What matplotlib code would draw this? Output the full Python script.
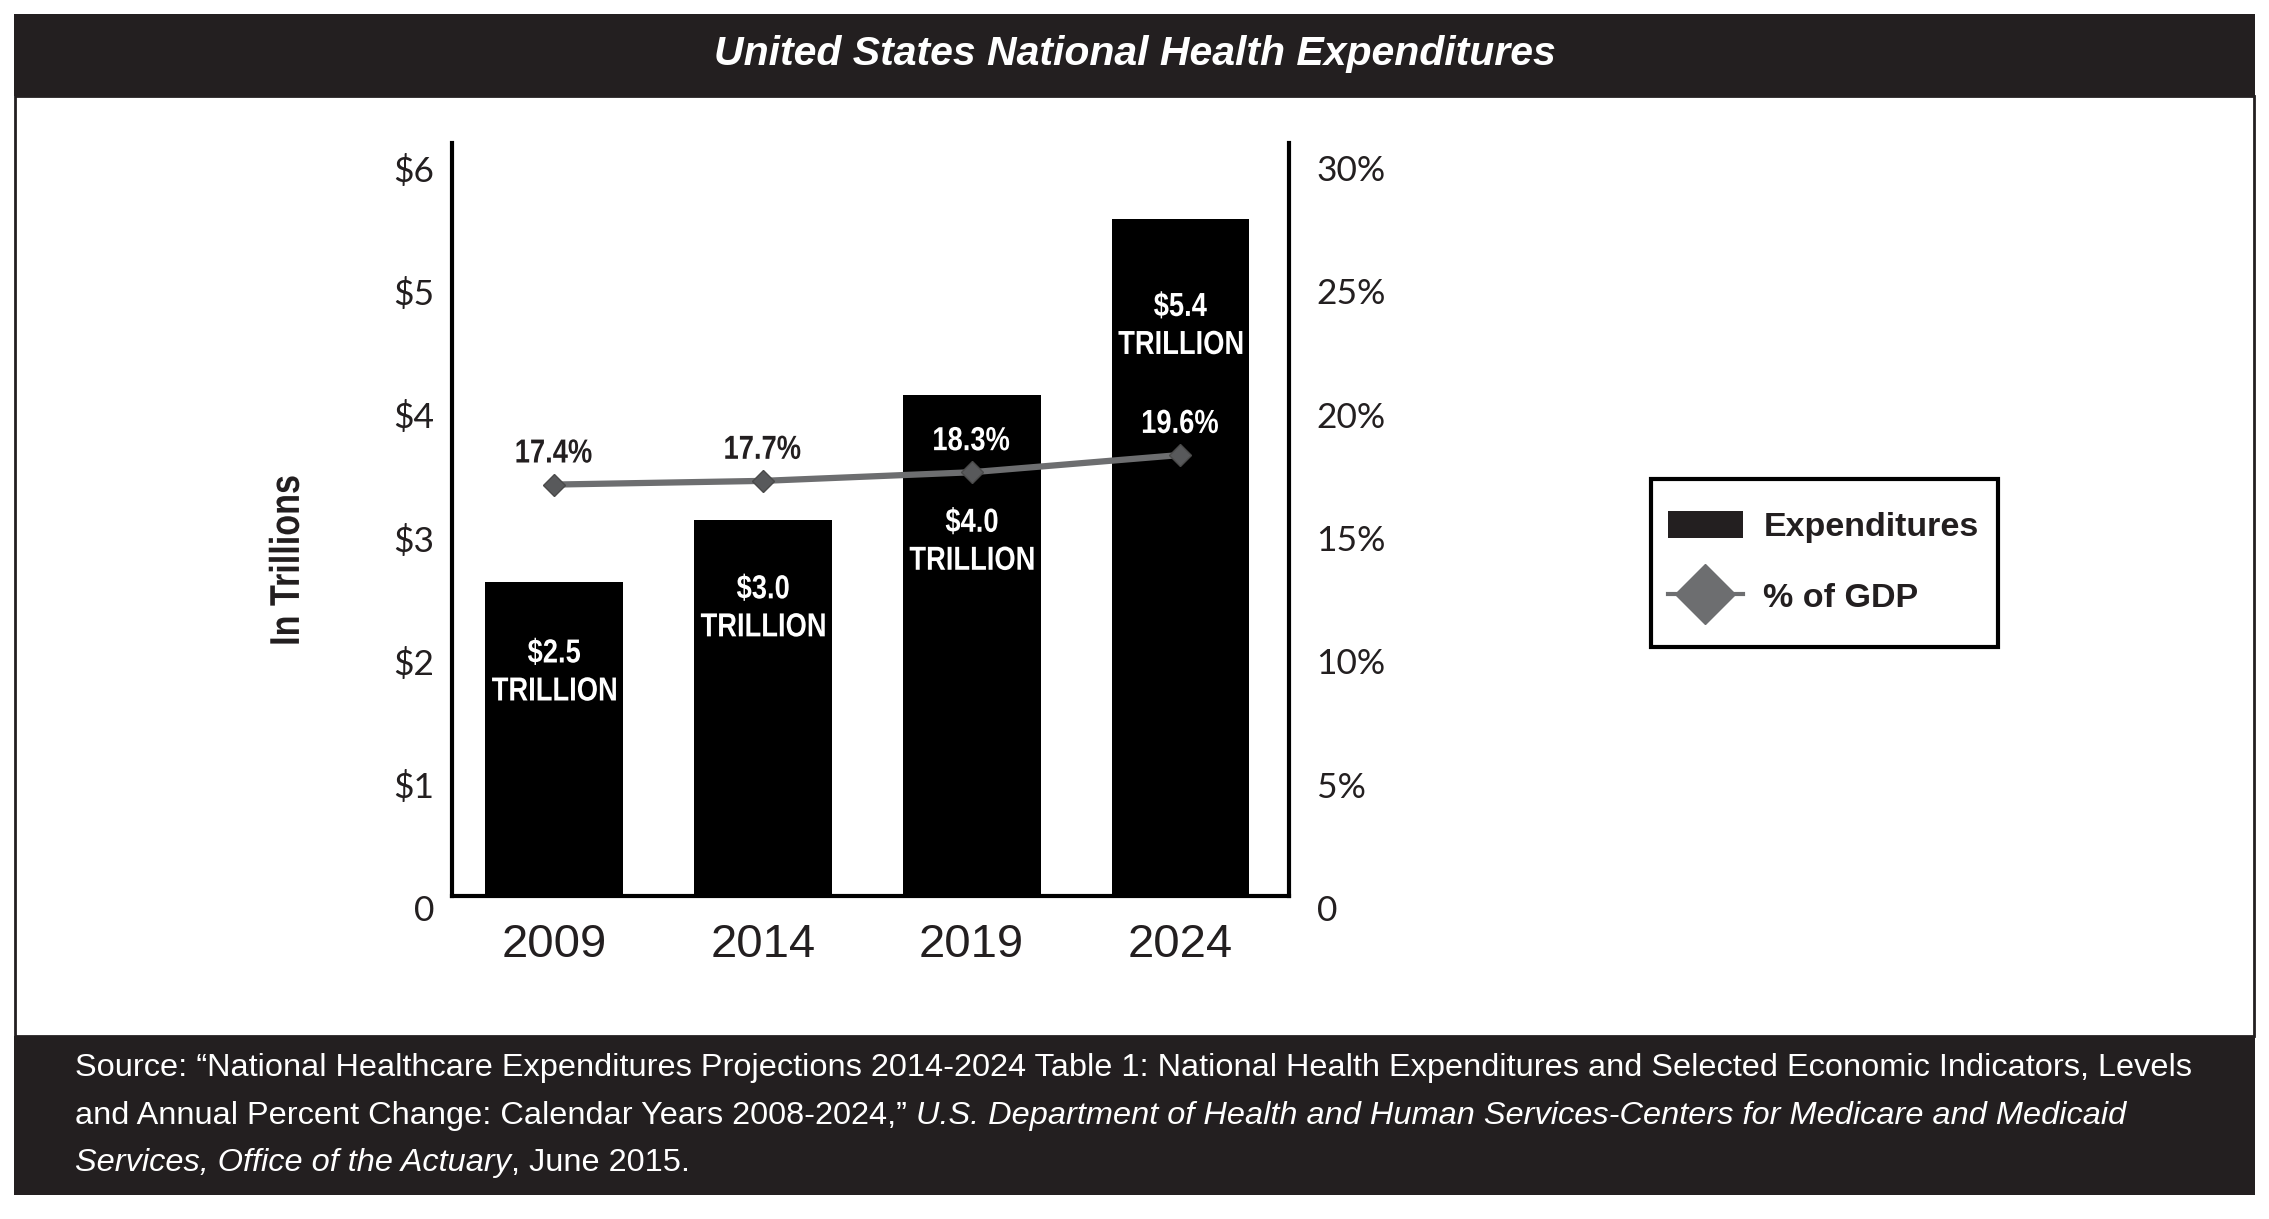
import matplotlib
matplotlib.use("Agg")
import matplotlib.pyplot as plt
from matplotlib.patches import Rectangle, Patch, PathPatch
from matplotlib.lines import Line2D
from matplotlib.textpath import TextPath
from matplotlib.font_manager import FontProperties
from matplotlib.transforms import ScaledTranslation, IdentityTransform, Affine2D

# data
years = ["2009", "2014", "2019", "2024"]
spending = [2.55, 3.05, 4.07, 5.49]          # trillions of dollars, bar heights as drawn
spending_labels = ["$2.5", "$3.0", "$4.0", "$5.4"]
gdp_share = [16.7, 16.85, 17.2, 17.9]        # % of GDP, line as drawn
gdp_labels = ["17.4%", "17.7%", "18.3%", "19.6%"]
left_ticks = [0, 1, 2, 3, 4, 5, 6]
left_ticklabels = ["0", "$1", "$2", "$3", "$4", "$5", "$6"]
right_ticks = [0, 5, 10, 15, 20, 25, 30]
right_ticklabels = ["0", "5%", "10%", "15%", "20%", "25%", "30%"]

# where the white bar labels sit (in $ trillions)
spend_label_y = [1.84, 2.36, 2.90, 4.65]

DARK = "#231f20"
LINE = "#6d6e70"
MARK = "#58595b"
SANS = "Liberation Sans"

W, H = 2269, 1219
fig = plt.figure(figsize=(W / 100, H / 100), dpi=100)
K = fig.dpi / 72


def fx(px):
    return px / W


def fy(py):
    return 1 - py / H


def narrow_text(xd, yd, s, size, color, rotation=0, squeeze=0.82):
    """Bold text squeezed sideways (stand-in for Arial Narrow), centred at display px."""
    path = TextPath((0, 0), s, size=size, prop=FontProperties(family=SANS, weight="bold"))
    ext = path.get_extents()
    cx = (ext.x0 + ext.x1) / 2
    cap = 0.716 * size
    tr = (Affine2D().translate(-cx, -cap / 2).scale(squeeze * K, K)
          .rotate_deg(rotation).translate(xd, yd))
    fig.add_artist(PathPatch(path, transform=tr, fc=color, ec="none", zorder=5))


# frame, title bar and source bar
fig.add_artist(Rectangle((fx(15), fy(1036)), fx(2254) - fx(15), (1036 - 96) / H,
                         transform=fig.transFigure, fill=False, ec=DARK, lw=2))
fig.add_artist(Rectangle((fx(14), fy(96)), fx(2255) - fx(14), (96 - 14) / H,
                         transform=fig.transFigure, fc=DARK, ec="none"))
fig.add_artist(Rectangle((fx(14), fy(1195)), fx(2255) - fx(14), (1195 - 1036) / H,
                         transform=fig.transFigure, fc=DARK, ec="none"))

fig.text(fx(1135), fy(54), "United States National Health Expenditures",
         ha="center", va="center", color="white", fontsize=29.5,
         fontweight="bold", fontstyle="italic", family=SANS)

# main axes
ax = fig.add_axes([0.1992, 0.2646, 0.3688, 0.6181])
xs = list(range(len(years)))
ax.bar(xs, spending, width=0.66, color="black", zorder=2)
ax.set_xlim(-0.4885, 3.519)
ax.set_ylim(0, 6.11)

ax2 = ax.twinx()
ax2.set_ylim(0, 30.55)
ax2.plot(xs, gdp_share, color=LINE, lw=4.5, marker="D", ms=11,
         mfc=MARK, mec="#4a4a4a", mew=1, zorder=3)

for a in (ax, ax2):
    a.spines["top"].set_visible(False)
ax.spines["right"].set_visible(False)
ax2.spines["left"].set_visible(False)
ax2.spines["bottom"].set_visible(False)
ax.spines["left"].set_linewidth(3)
ax.spines["bottom"].set_linewidth(3)
ax2.spines["right"].set_linewidth(3)

ax.set_yticks(left_ticks, left_ticklabels, family="Lato", fontsize=25.5, color=DARK)
ax2.set_yticks(right_ticks, right_ticklabels, family="Lato", fontsize=25.5, color=DARK)
ax.tick_params(axis="y", length=0, pad=13)
ax2.tick_params(axis="y", length=0, pad=20)
ax.set_xticks(xs, years, family=SANS, fontsize=34, color=DARK)
ax.tick_params(axis="x", length=0, pad=19)

# tick labels sit a little below their gridline positions in the original
shift = ScaledTranslation(0, -11.5 / 100, fig.dpi_scale_trans)
for lbl in ax.get_yticklabels() + ax2.get_yticklabels():
    lbl.set_transform(lbl.get_transform() + shift)

narrow_text(284, H - 560, "In Trillions", 30, DARK, rotation=90)

# white labels inside the bars
for i, lab in enumerate(spending_labels):
    xd, yd = ax.transData.transform((xs[i], spend_label_y[i]))
    narrow_text(xd, yd + 19, lab, 24, "white")
    narrow_text(xd, yd - 19, "TRILLION", 24, "white")

# % of GDP labels above the markers
for i, lab in enumerate(gdp_labels):
    xd, yd = ax2.transData.transform((xs[i], gdp_share[i]))
    narrow_text(xd, yd + 34, lab, 24, "white" if i >= 2 else DARK)

# legend: entries without frame, frame drawn as its own box
handles = [Patch(facecolor=DARK, edgecolor="none"),
           Line2D([], [], color=LINE, lw=3, marker="D", ms=31, mfc=LINE, mec=LINE)]
leg = ax.legend(handles, ["Expenditures", "% of GDP"], loc="upper left",
                bbox_to_anchor=(fx(1668), fy(511)), bbox_transform=fig.transFigure,
                frameon=False, prop={"family": SANS, "weight": "bold", "size": 24.5},
                handlelength=2.2, handleheight=0.85, handletextpad=0.6,
                labelspacing=1.12, borderpad=0, borderaxespad=0)
for t in leg.get_texts():
    t.set_color(DARK)
fig.add_artist(Rectangle((fx(1651), fy(647)), fx(1998) - fx(1651), (647 - 479) / H,
                         transform=fig.transFigure, fill=False, ec="black", lw=3))

# source note with mixed roman/italic runs
renderer = fig.canvas.get_renderer()
src_size = 23.4


def text_width(s, style):
    t = fig.text(0, 0, s, transform=IdentityTransform(), fontsize=src_size,
                 family=SANS, fontstyle=style)
    w = t.get_window_extent(renderer).width
    t.remove()
    return w


space_w = text_width("a a", "normal") - text_width("aa", "normal")

source_lines = [
    [("Source: \u201cNational Healthcare Expenditures Projections 2014-2024 Table 1: National "
      "Health Expenditures and Selected Economic Indicators, Levels", "normal")],
    [("and Annual Percent Change: Calendar Years 2008-2024,\u201d", "normal"), (" ", "space"),
     ("U.S. Department of Health and Human Services-Centers for Medicare and Medicaid", "italic")],
    [("Services, Office of the Actuary", "italic"), (", June 2015.", "normal")],
]
baselines = [1076, 1124, 1171]

for runs, base in zip(source_lines, baselines):
    x = 75
    for s, style in runs:
        if style == "space":
            x += space_w
            continue
        t = fig.text(x, H - base, s, transform=IdentityTransform(), fontsize=src_size,
                     family=SANS, fontstyle=style, color="white", va="baseline", ha="left")
        x += t.get_window_extent(renderer).width

fig.savefig("out.png", dpi=100, facecolor="white")
